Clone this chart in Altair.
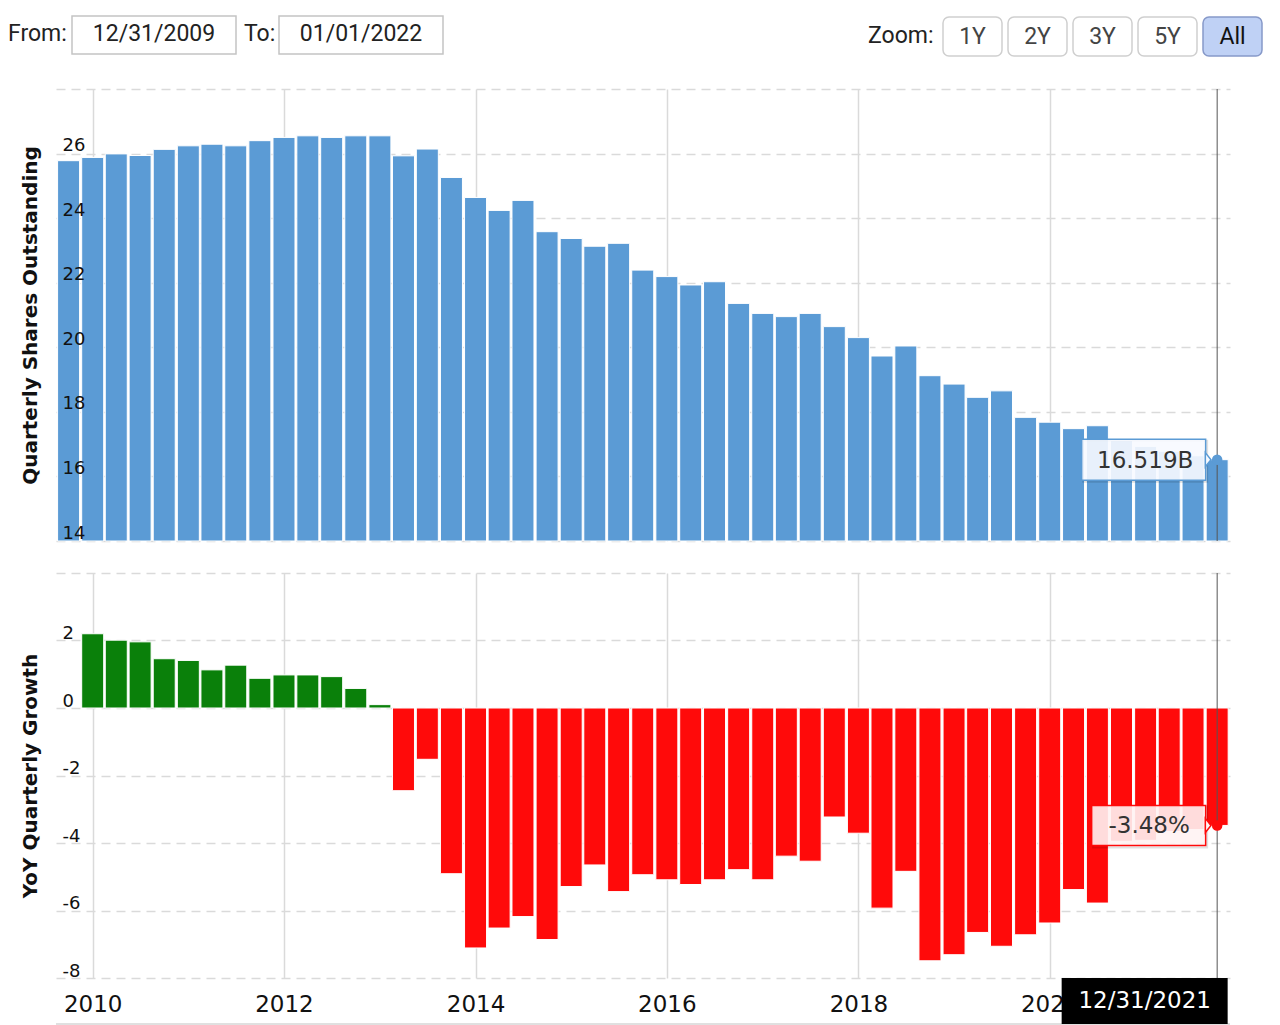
import altair as alt
import pandas as pd

# ---------------- data ----------------
quarter_ends = pd.date_range("2009-12-31", "2021-12-31", freq="QE")  # 49 quarters

shares_b = [25.78, 25.88, 25.99, 25.94, 26.13, 26.24, 26.29, 26.24, 26.40, 26.50,
            26.55, 26.50, 26.55, 26.55, 25.93, 26.14, 25.26, 24.64, 24.24, 24.55,
            23.58, 23.37, 23.13, 23.22, 22.39, 22.19, 21.93, 22.03, 21.36, 21.05,
            20.95, 21.05, 20.64, 20.30, 19.73, 20.04, 19.12, 18.86, 18.45, 18.65,
            17.83, 17.68, 17.48, 17.57, 17.11, 16.93, 16.78, 16.64, 16.519]

# YoY growth (%) starts with the second quarter
growth_pct = [2.20, 2.01, 1.96, 1.46, 1.41, 1.13, 1.27, 0.88, 0.98, 0.98,
              0.93, 0.58, 0.10, -2.45, -1.52, -4.91, -7.11, -6.52, -6.18, -6.86,
              -5.29, -4.65, -5.44, -4.94, -5.09, -5.23, -5.09, -4.79, -5.09, -4.39,
              -4.54, -3.23, -3.71, -5.93, -4.84, -7.49, -7.31, -6.65, -7.06, -6.72,
              -6.37, -5.38, -5.78, -3.95, -3.92, -3.66, -3.60, -3.48]

year_ticks = [2010, 2012, 2014, 2016, 2018, 2020]
top_ticks = [14, 16, 18, 20, 22, 24, 26, 28]
bot_ticks = [-8, -6, -4, -2, 0, 2, 4]
from_label = "12/31/2009"
to_label = "01/01/2022"
zoom_buttons = ["1Y", "2Y", "3Y", "5Y", "All"]

# columns are drawn at the start of each quarter (as in the source chart)
plot_dates = quarter_ends.to_period("Q").start_time

top_df = pd.DataFrame({"date": plot_dates, "shares": shares_b})
bot_df = pd.DataFrame({"date": plot_dates[1:], "growth": growth_pct})
last_df = pd.DataFrame({
    "date": [plot_dates[-1]],
    "shares": [shares_b[-1]],
    "growth": [growth_pct[-1]],
    "share_label": [f"{shares_b[-1]:.3f}B"],
    "growth_label": [f"{growth_pct[-1]:.2f}%"],
    "date_label": [quarter_ends[-1].strftime("%m/%d/%Y")],
})

# ---------------- styling ----------------
W, H_TOP, H_BOT = 1174, 452, 405
BLUE, GREEN, RED = "#5b9bd5", "#0a800a", "#ff0a0a"
GRID = "#dadada"
AX_FONT = "DejaVu Sans"
HDR_FONT = "Roboto"
HYPHEN_LABEL = "datum.value < 0 ? '-' + format(-datum.value, 'd') : format(datum.value, 'd')"

xscale = alt.Scale(domain=[alt.DateTime(year=2009, month=8, date=14),
                           alt.DateTime(year=2021, month=11, date=19)],
                   nice=False, padding=0)
tick_dates = [alt.DateTime(year=y, month=1, date=1) for y in year_ticks]

x_axis_top = alt.Axis(values=tick_dates, grid=True, gridColor=GRID, gridWidth=1.5,
                      labels=False, ticks=False, domain=False, title=None)
x_axis_bot = alt.Axis(values=tick_dates, format="%Y", grid=True, gridColor=GRID,
                      gridWidth=1.5, ticks=False, tickSize=0, domain=False, title=None,
                      labelFontSize=23, labelFont=AX_FONT, labelColor="#111",
                      labelPadding=15, labelFlush=False, labelBaseline="top")

y_scale_top = alt.Scale(domain=[14, 28], nice=False, zero=False, padding=0)
y_scale_bot = alt.Scale(domain=[-8, 4], nice=False, zero=False, padding=0)


def grid_axis(values):
    return alt.Axis(values=values, grid=True, gridDash=[9, 6], gridColor=GRID,
                    gridWidth=1.5, labels=False, ticks=False, domain=False,
                    title=None, zindex=0)


def label_axis(values, title, height, offset):
    return alt.Axis(values=values, grid=False, ticks=False, tickSize=0,
                    domain=False, orient="left", zindex=1, labelExpr=HYPHEN_LABEL,
                    labelAlign="left", labelPadding=-6, labelBaseline="alphabetic",
                    labelOffset=offset, labelFontSize=18, labelFont=AX_FONT,
                    labelColor="#111", labelFlush=False, labelOverlap=False,
                    title=title, titleFont=AX_FONT,
                    titleFontSize=20, titleFontWeight="bold", titleColor="#111",
                    titleAngle=270, titleBaseline="alphabetic",
                    titleX=-20, titleY=height / 2)


def one_row():
    return alt.Data(values=[{}])


def deco_text(text, x, y, align="left", size=23, color="#222", font=HDR_FONT):
    return alt.Chart(one_row()).mark_text(
        text=text, align=align, baseline="middle", font=font, fontSize=size, color=color
    ).encode(x=alt.value(x), y=alt.value(y))


def deco_box(x0, x1, y0, y1, fill, stroke, sw=1.5, radius=0):
    return alt.Chart(one_row()).mark_rect(
        fill=fill, stroke=stroke, strokeWidth=sw, cornerRadius=radius
    ).encode(x=alt.value(x0), x2=alt.value(x1), y=alt.value(y0), y2=alt.value(y1))


# ---------------- header (range inputs and zoom buttons) ----------------
header = [
    deco_text("From:", -48, -55),
    deco_box(16, 180, -73, -35, "white", "#c4c4c4"),
    deco_text(from_label, 98, -55, align="center"),
    deco_text("To:", 188, -55),
    deco_box(223, 387, -73, -35, "white", "#c4c4c4"),
    deco_text(to_label, 305, -55, align="center"),
    deco_text("Zoom:", 812, -53),
]
for i, lab in enumerate(zoom_buttons):
    x0 = 887 + 65 * i
    active = lab == "All"
    header.append(deco_box(x0, x0 + 59, -72, -33,
                           "#bfd1f5" if active else "white",
                           "#8799c9" if active else "#cfcfcf", 1.5, 6))
    header.append(deco_text(lab, x0 + 29.5, -52.5, align="center",
                            color="#111" if active else "#444"))

# ---------------- top panel ----------------
X_top = alt.X("date:T", scale=xscale, axis=x_axis_top)
Y_top = alt.Y("shares:Q", scale=y_scale_top, axis=None)

top_bars = alt.Chart(top_df).mark_bar(size=22, color=BLUE, stroke="white",
                                      strokeWidth=1).encode(
    x=X_top,
    y=alt.Y("shares:Q", scale=y_scale_top, axis=grid_axis(top_ticks)),
    y2=alt.datum(14),
)
top_cross = alt.Chart(last_df).mark_rule(color="#555", strokeWidth=1).encode(
    x=X_top, y=alt.value(0), y2=alt.value(H_TOP))
top_shadow = alt.Chart(last_df).mark_rect(
    fillOpacity=0, stroke="#000", strokeOpacity=0.12, strokeWidth=2,
    xOffset=-134, x2Offset=-10, yOffset=-19, y2Offset=22).encode(
    x=X_top, x2="date", y=Y_top, y2="shares")
top_box = alt.Chart(last_df).mark_rect(
    fill="#f7faff", fillOpacity=0.9, stroke=BLUE, strokeWidth=1.5,
    xOffset=-135.5, x2Offset=-11.5, yOffset=-20.4, y2Offset=20.6).encode(
    x=X_top, x2="date", y=Y_top, y2="shares")
top_arrow = alt.Chart(last_df).mark_point(
    shape="M-0.4,-1L0.4,0L-0.4,1Z", filled=True, fill="#f7faff", fillOpacity=1,
    stroke=BLUE, strokeWidth=1.5, size=200, xOffset=-9).encode(x=X_top, y=Y_top)
top_text = alt.Chart(last_df).mark_text(
    font=AX_FONT, fontSize=23, color="#333", dx=-72, dy=1, baseline="middle").encode(
    x=X_top, y=Y_top, text="share_label:N")
top_dot = alt.Chart(last_df).mark_circle(size=110, color=BLUE, opacity=1).encode(
    x=X_top,
    y=alt.Y("shares:Q", scale=y_scale_top,
            axis=label_axis(top_ticks[:-1], "Quarterly Shares Outstanding", H_TOP, -3)))

top = alt.layer(top_bars, top_cross, top_shadow, top_box, top_arrow, top_text,
                top_dot, *header).resolve_axis(y="independent").properties(
    width=W, height=H_TOP)

# ---------------- bottom panel ----------------
X_bot = alt.X("date:T", scale=xscale, axis=x_axis_bot)
Y_bot = alt.Y("growth:Q", scale=y_scale_bot, axis=None)

bot_bars = alt.Chart(bot_df).mark_bar(size=22, stroke="white", strokeWidth=1).encode(
    x=X_bot,
    y=alt.Y("growth:Q", scale=y_scale_bot, axis=grid_axis(bot_ticks)),
    y2=alt.datum(0),
    color=alt.condition(alt.datum.growth >= 0, alt.value(GREEN), alt.value(RED)),
)
bot_cross = alt.Chart(last_df).mark_rule(color="#555", strokeWidth=1).encode(
    x=X_bot, y=alt.value(0), y2=alt.value(H_BOT))
bot_shadow = alt.Chart(last_df).mark_rect(
    fillOpacity=0, stroke="#000", strokeOpacity=0.12, strokeWidth=2,
    xOffset=-124, x2Offset=-10, yOffset=-19, y2Offset=22).encode(
    x=X_bot, x2="date", y=Y_bot, y2="growth")
bot_box = alt.Chart(last_df).mark_rect(
    fill="#fff3f3", fillOpacity=0.9, stroke=RED, strokeWidth=1.5,
    xOffset=-125.5, x2Offset=-11.5, yOffset=-20, y2Offset=20).encode(
    x=X_bot, x2="date", y=Y_bot, y2="growth")
bot_arrow = alt.Chart(last_df).mark_point(
    shape="M-0.4,-1L0.4,0L-0.4,1Z", filled=True, fill="#fff3f3", fillOpacity=1,
    stroke=RED, strokeWidth=1.5, size=200, xOffset=-9).encode(x=X_bot, y=Y_bot)
bot_text = alt.Chart(last_df).mark_text(
    font=AX_FONT, fontSize=23, color="#333", dx=-68, dy=1, baseline="middle").encode(
    x=X_bot, y=Y_bot, text="growth_label:N")
bot_dot = alt.Chart(last_df).mark_circle(size=110, color=RED, opacity=1).encode(
    x=X_bot,
    y=alt.Y("growth:Q", scale=y_scale_bot,
            axis=label_axis(bot_ticks[:-1], "YoY Quarterly Growth", H_BOT, -2)))
date_box = alt.Chart(last_df).mark_rect(
    color="black", xOffset=-155.5, x2Offset=10.5).encode(
    x=X_bot, x2="date", y=alt.value(H_BOT), y2=alt.value(H_BOT + 46))
date_text = alt.Chart(last_df).mark_text(
    font=AX_FONT, fontSize=23, color="white", dx=-72.5, baseline="middle").encode(
    x=X_bot, y=alt.value(H_BOT + 23), text="date_label:N")
bottom_line = alt.Chart(one_row()).mark_rule(color="#d6d6d6", strokeWidth=1.5).encode(
    x=alt.value(0), x2=alt.value(W), y=alt.value(H_BOT + 46))

bottom = alt.layer(bot_bars, bot_cross, bot_shadow, bot_box, bot_arrow, bot_text,
                   bot_dot, bottom_line, date_box, date_text).resolve_axis(
    y="independent").properties(width=W, height=H_BOT)

chart = alt.vconcat(top, bottom, spacing=30).properties(
    padding={"left": 0, "top": 7, "right": 0, "bottom": 0},
    background="white",
).configure_view(stroke=None).configure_axis(labelFont=AX_FONT, titleFont=AX_FONT)

chart.save("out.html", embed_options={"renderer": "svg", "actions": False})
